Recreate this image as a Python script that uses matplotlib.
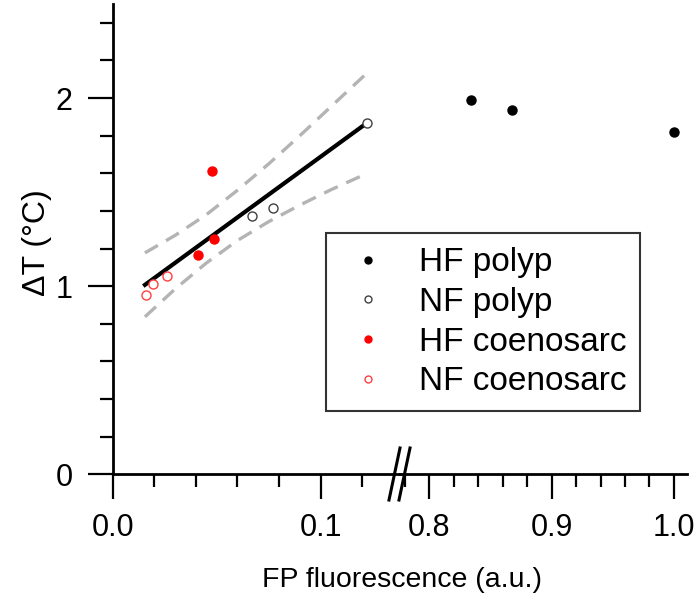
import matplotlib
matplotlib.use("Agg")
import matplotlib.pyplot as plt
from matplotlib.lines import Line2D

plt.rcParams['font.family'] = ['Liberation Sans', 'DejaVu Sans']

# data
hf_polyp_x = [0.834, 0.868, 1.000]
hf_polyp_y = [1.990, 1.937, 1.818]
nf_polyp_x = [0.0670, 0.0770, 0.1224]
nf_polyp_y = [1.374, 1.416, 1.869]
hf_coen_x = [0.0476, 0.0487, 0.0410]
hf_coen_y = [1.610, 1.249, 1.164]
nf_coen_x = [0.0159, 0.0195, 0.0263]
nf_coen_y = [0.952, 1.009, 1.052]

fit_x = [0.0155, 0.1224]
fit_y = [1.007, 1.869]
ci_up_x = [0.0155, 0.030, 0.045, 0.060, 0.075, 0.090, 0.105, 0.1215]
ci_up_y = [1.177, 1.270, 1.380, 1.510, 1.650, 1.800, 1.955, 2.125]
ci_lo_x = [0.0155, 0.030, 0.045, 0.060, 0.075, 0.090, 0.105, 0.1188]
ci_lo_y = [0.837, 0.985, 1.123, 1.243, 1.343, 1.431, 1.513, 1.582]

W, H = 700, 610
fig = plt.figure(figsize=(7, 6.1), dpi=100)
axL = fig.add_axes([112.7 / W, 1 - 474.3 / H, 287 / W, 470.3 / H])
axR = fig.add_axes([399.7 / W, 1 - 474.3 / H, 287 / W, 470.3 / H])

ms = 6.5
for ax in (axL, axR):
    ax.plot(nf_coen_x, nf_coen_y, 'o', ms=ms, mfc='white', mec='#ff4040', mew=1.0, zorder=3)
    ax.plot(hf_coen_x, hf_coen_y, 'o', ms=ms, mfc='red', mec='red', zorder=3)
    ax.plot(nf_polyp_x, nf_polyp_y, 'o', ms=ms, mfc='white', mec='#404040', mew=1.0, zorder=3)
    ax.plot(hf_polyp_x, hf_polyp_y, 'o', ms=ms, mfc='black', mec='black', zorder=3)
    ax.set_ylim(0, 2.5)
    ax.spines['top'].set_visible(False)
    for s in ax.spines.values():
        s.set_linewidth(2)
    ax.tick_params(which='major', length=18, width=1.6, labelsize=22, direction='out')
    ax.tick_params(which='minor', length=9.5, width=1.6, direction='out')
    ax.tick_params(axis='x', pad=10)

axL.plot(fit_x, fit_y, color='black', lw=3, zorder=2)
axL.plot(ci_up_x, ci_up_y, color='#b4b4b4', lw=2.4, dashes=(4.5, 2.8), zorder=1)
axL.plot(ci_lo_x, ci_lo_y, color='#b4b4b4', lw=2.4, dashes=(4.5, 2.8), zorder=1)

axL.set_xlim(0, 0.138)
axL.set_xticks([0.0, 0.1])
axL.set_xticklabels(['0.0', '0.1'])
axL.set_xticks([0.02, 0.04, 0.06, 0.08, 0.12], minor=True)
axL.set_yticks([0, 1, 2])
axL.set_yticks([0.2, 0.4, 0.6, 0.8, 1.2, 1.4, 1.6, 1.8, 2.2, 2.4], minor=True)
axL.tick_params(axis='y', pad=11)
axL.spines['right'].set_visible(False)

axR.set_xlim(0.776, 1.0104)
axR.set_xticks([0.8, 0.9, 1.0])
axR.set_xticklabels(['0.8', '0.9', '1.0'])
axR.set_xticks([0.78, 0.82, 0.84, 0.86, 0.88, 0.92, 0.94, 0.96, 0.98], minor=True)
axR.spines['left'].set_visible(False)
axR.spines['right'].set_visible(False)
axR.yaxis.set_visible(False)
axR.patch.set_visible(False)

# axis break marks
for x0 in (389, 399):
    fig.add_artist(Line2D([x0 / W, (x0 + 11) / W], [1 - 500 / H, 1 - 448 / H],
                          color='black', lw=2.2))

fig.text(37 / W, 1 - 243 / H, 'ΔT (°C)', fontsize=23, rotation=90, ha='center', va='center')
fig.text(402 / W, 1 - 580 / H, 'FP fluorescence (a.u.)', fontsize=20.5, ha='center', va='center')

handles = [
    Line2D([], [], ls='', marker='o', ms=5, mfc='black', mec='black'),
    Line2D([], [], ls='', marker='o', ms=5, mfc='white', mec='#404040'),
    Line2D([], [], ls='', marker='o', ms=5, mfc='red', mec='red'),
    Line2D([], [], ls='', marker='o', ms=5, mfc='white', mec='#ff4040'),
]
labels = ['HF polyp', 'NF polyp', 'HF coenosarc', 'NF coenosarc']
leg = fig.legend(handles, labels, loc='upper left',
                 bbox_to_anchor=(325.7 / W, 1 - 233.3 / H), bbox_transform=fig.transFigure,
                 fontsize=24, frameon=True, fancybox=False, edgecolor='black',
                 handlelength=1.7, handletextpad=0.67, borderpad=0.42, labelspacing=0.26,
                 borderaxespad=0)
leg.get_frame().set_linewidth(1.5)

fig.savefig('out.png', dpi=100)
